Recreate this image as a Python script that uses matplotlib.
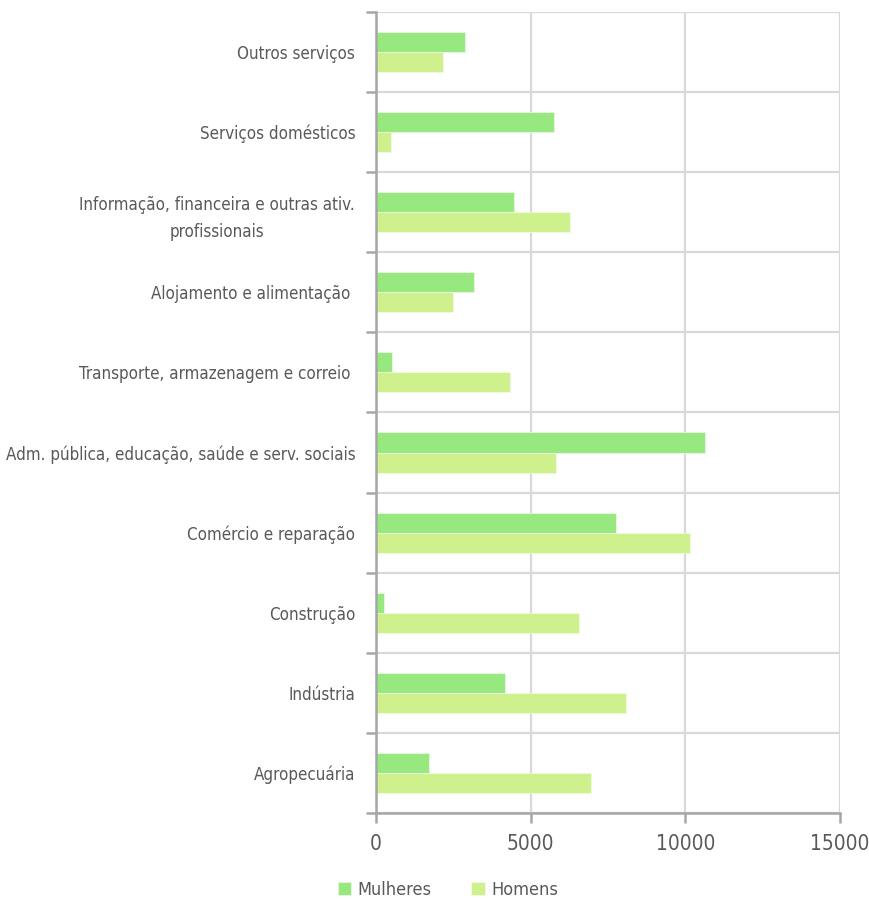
import numpy as np
import matplotlib
matplotlib.use("Agg")
import matplotlib.pyplot as plt

# Setores (de baixo para cima, como aparecem no eixo)
setores = [
    "Agropecuária",
    "Indústria",
    "Construção",
    "Comércio e reparação",
    "Adm. pública, educação, saúde e serv. sociais",
    "Transporte, armazenagem e correio ",
    "Alojamento e alimentação ",
    "Informação, financeira e outras ativ.\nprofissionais",
    "Serviços domésticos",
    "Outros serviços",
]
mulheres = [1710, 4160, 260, 7760, 10640, 520, 3160, 4460, 5750, 2880]
homens = [6940, 8080, 6550, 10150, 5820, 4330, 2480, 6260, 490, 2170]
x_ticks = [0, 5000, 10000, 15000]

cor_mulheres = "#97e87f"
cor_homens = "#cef08d"
cinza_texto = "#595959"
cinza_eixo = "#a6a6a6"
cinza_grade = "#d9d9d9"

plt.rcParams["font.family"] = ["DejaVu Sans"]
plt.rcParams["font.stretch"] = "condensed"

fig = plt.figure(figsize=(8.7, 8.99), dpi=100)
ax = fig.add_axes([0.4322, 0.0957, 0.5333, 0.891])

y = np.arange(len(setores))
h = 0.25
ax.barh(y + h / 2, mulheres, height=h, color=cor_mulheres, edgecolor="#e8f8e0",
        linewidth=0.6, label="Mulheres", zorder=3)
ax.barh(y - h / 2, homens, height=h, color=cor_homens, edgecolor="#f0fbe0",
        linewidth=0.6, label="Homens", zorder=3)

ax.set_xlim(0, 15000)
ax.set_ylim(-0.5, len(setores) - 0.5)

# grade nas fronteiras das categorias
ax.set_yticks(np.arange(len(setores) + 1) - 0.5)
ax.set_yticklabels([])
ax.set_yticks(y, minor=True)
ax.set_yticklabels(setores, minor=True, fontsize=12.2, color=cinza_texto,
                   multialignment="center", linespacing=1.65)
ax.tick_params(axis="y", which="minor", length=0, pad=15)
ax.tick_params(axis="y", which="major", length=7, width=1.8, color=cinza_eixo)

ax.set_xticks(x_ticks)
ax.set_xticklabels([str(v) for v in x_ticks], fontsize=15, color=cinza_texto)
ax.tick_params(axis="x", length=7, width=1.8, color=cinza_eixo, direction="out", pad=8)

ax.grid(True, which="major", color=cinza_grade, linewidth=1.6, zorder=0)

for lado in ["top", "right"]:
    ax.spines[lado].set_visible(False)
for lado in ["left", "bottom"]:
    ax.spines[lado].set_color(cinza_eixo)
    ax.spines[lado].set_linewidth(1.8)
    ax.spines[lado].set_zorder(4)

fig.legend(loc="lower center", bbox_to_anchor=(0.515, -0.018), ncol=2, frameon=False,
           fontsize=13, labelcolor=cinza_texto, handlelength=0.75, handleheight=0.75,
           handletextpad=0.35, columnspacing=2.2)

fig.savefig("out.png", dpi=100, facecolor="white")
